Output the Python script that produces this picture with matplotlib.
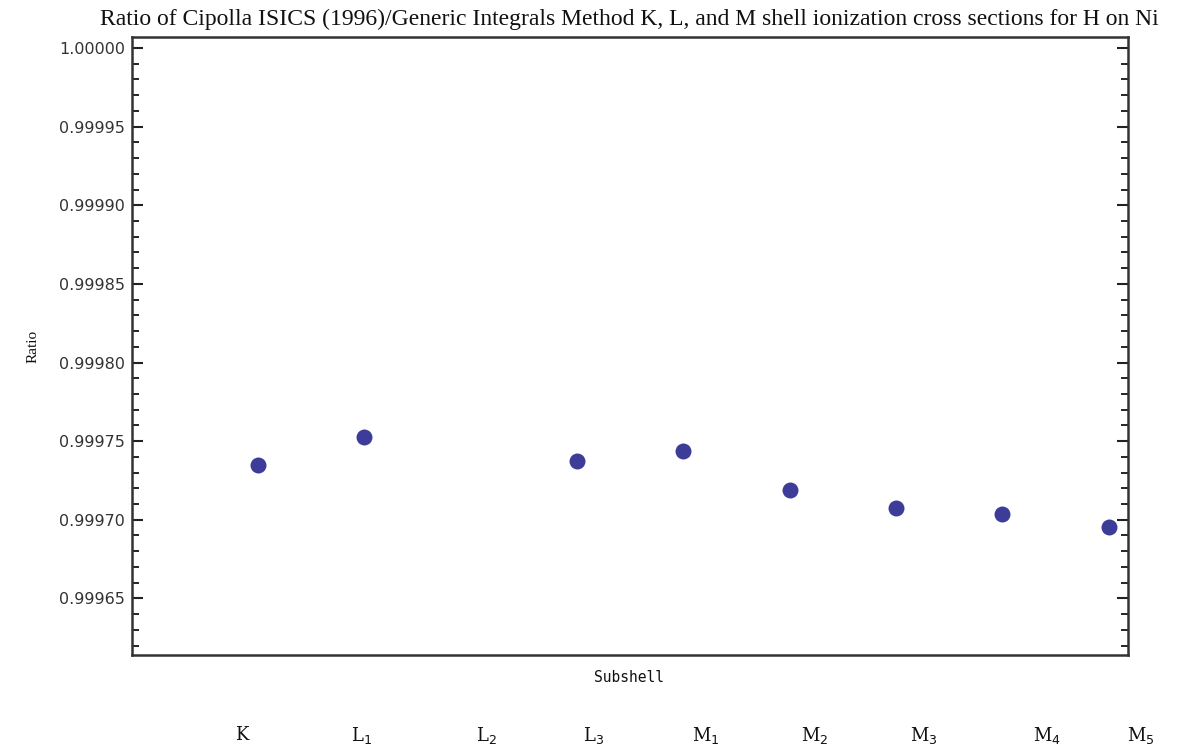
import matplotlib
matplotlib.use("Agg")
import matplotlib.pyplot as plt
from matplotlib.ticker import MultipleLocator, FormatStrFormatter

# Data
subshells = ["K", "L$_1$", "L$_2$", "L$_3$", "M$_1$", "M$_2$", "M$_3$", "M$_4$", "M$_5$"]
x_index = [1, 2, 4, 5, 6, 7, 8, 9]
ratios = [0.999735, 0.9997525, 0.9997373, 0.9997436, 0.9997191, 0.9997076, 0.9997038, 0.9996955]
label_px = [242, 362, 486, 594, 706, 815, 924, 1047, 1141]

W, H = 1180, 751
fig = plt.figure(figsize=(W / 100, H / 100), dpi=100)
ax = fig.add_axes([132 / W, 1 - 655 / H, (1128 - 132) / W, (655 - 37) / H])

ax.plot(x_index, ratios, 'o', color='#3d3d99', markersize=11.5, markeredgewidth=0)

ax.set_xlim(-0.184, 9.18)
ax.set_ylim(0.999614, 1.000007)

ax.yaxis.set_major_locator(MultipleLocator(0.00005))
ax.yaxis.set_minor_locator(MultipleLocator(0.00001))
ax.yaxis.set_major_formatter(FormatStrFormatter('%.5f'))
ax.set_xticks([])
ax.tick_params(axis='y', which='major', direction='in', length=8, width=1.5,
               left=True, right=True, labelsize=11.5, colors='#222222', pad=5)
ax.tick_params(axis='y', which='minor', direction='in', length=5, width=1.2,
               left=True, right=True)
for lab in ax.get_yticklabels():
    lab.set_fontfamily('DejaVu Sans')
    lab.set_color('#333333')
for sp in ax.spines.values():
    sp.set_linewidth(1.8)
    sp.set_color('#333333')

fig.text(629 / W, 1 - 19 / H,
         "Ratio of Cipolla ISICS (1996)/Generic Integrals Method K, L, and M shell ionization cross sections for H on Ni",
         ha='center', va='center', fontsize=17, family='Liberation Serif', color='#111111')
fig.text(33 / W, 1 - 346 / H, "Ratio", rotation=90, ha='center', va='center',
         fontsize=11, family='Liberation Serif', color='#111111')
fig.text(629 / W, 1 - 677 / H, "Subshell", ha='center', va='center',
         fontsize=10.5, family='DejaVu Sans Mono', color='#111111')

for name, px in zip(subshells, label_px):
    fig.text(px / W, 1 - 735 / H, name, ha='center', va='center', fontsize=13,
             family='DejaVu Serif', color='#111111')

fig.savefig("out.png", dpi=100)
